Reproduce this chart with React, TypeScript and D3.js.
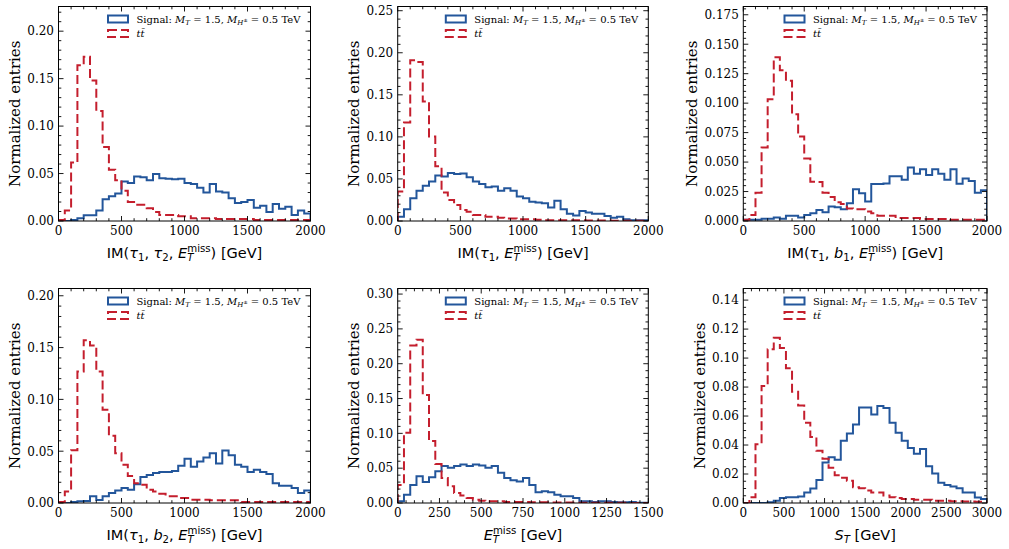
import * as d3 from 'd3';
import React from 'react';

// Normalized step histograms, 40 bins each, signal vs. ttbar
const sigTauTau = [0, 0, 0.001, 0.003, 0.006, 0.006, 0.011, 0.023, 0.026, 0.029, 0.0415, 0.04, 0.047, 0.046, 0.043, 0.0496, 0.045, 0.0445, 0.044, 0.0445, 0.04, 0.039, 0.035, 0.03, 0.039, 0.031, 0.03, 0.024, 0.019, 0.02, 0.022, 0.014, 0.016, 0.0095, 0.018, 0.013, 0.015, 0.0063, 0.011, 0.008];
const ttTauTau = [0.001, 0.011, 0.0616, 0.164, 0.173, 0.148, 0.116, 0.078, 0.054, 0.043, 0.032, 0.02, 0.017, 0.017, 0.0134, 0.0095, 0.0063, 0.0063, 0.0063, 0.005, 0.005, 0.003, 0.003, 0.003, 0.003, 0.002, 0.002, 0.002, 0.002, 0.002, 0.002, 0.001, 0.001, 0.001, 0.001, 0.001, 0.001, 0.001, 0.001, 0.001];

const sigTauMet = [0.005, 0.014, 0.027, 0.036, 0.042, 0.047, 0.054, 0.053, 0.057, 0.056, 0.0565, 0.052, 0.047, 0.044, 0.04, 0.041, 0.036, 0.039, 0.036, 0.029, 0.027, 0.023, 0.022, 0.021, 0.016, 0.024, 0.014, 0.0087, 0.0064, 0.012, 0.01, 0.0087, 0.0087, 0.006, 0.004, 0.005, 0.002, 0.001, 0.001, 0.001];
const ttTauMet = [0.035, 0.117, 0.191, 0.189, 0.142, 0.1006, 0.065, 0.034, 0.025, 0.019, 0.013, 0.011, 0.007, 0.007, 0.005, 0.005, 0.004, 0.003, 0.003, 0.002, 0.002, 0.002, 0.0015, 0.001, 0.001, 0.001, 0.001, 0.001, 0.0008, 0.0008, 0.0006, 0.0006, 0.0005, 0.0005, 0.0004, 0.0004, 0.0003, 0.0003, 0.0002, 0.0002];

const sigTauB1 = [0.001, 0.001, 0.001, 0.002, 0.002, 0.003, 0.002, 0.0045, 0.0045, 0.003, 0.005, 0.0065, 0.0093, 0.0075, 0.0122, 0.0116, 0.01, 0.015, 0.027, 0.0235, 0.0165, 0.0314, 0.0314, 0.0318, 0.038, 0.038, 0.035, 0.0453, 0.04, 0.044, 0.039, 0.044, 0.04, 0.035, 0.044, 0.0317, 0.036, 0.034, 0.024, 0.026];
const ttTauB1 = [0.001, 0.005, 0.024, 0.0623, 0.1034, 0.139, 0.128, 0.119, 0.0906, 0.0716, 0.053, 0.0334, 0.033, 0.024, 0.0204, 0.016, 0.0144, 0.0107, 0.01, 0.01, 0.008, 0.0065, 0.0045, 0.0045, 0.0045, 0.0025, 0.0025, 0.0025, 0.0025, 0.0017, 0.0017, 0.0017, 0.0017, 0.0017, 0.001, 0.001, 0.001, 0.001, 0.001, 0.001];

const sigTauB2 = [0, 0, 0.001, 0.0016, 0.002, 0.0064, 0.003, 0.0064, 0.0096, 0.012, 0.0144, 0.0128, 0.018, 0.025, 0.027, 0.029, 0.03, 0.03, 0.031, 0.036, 0.0426, 0.035, 0.04, 0.044, 0.048, 0.038, 0.0506, 0.046, 0.037, 0.035, 0.03, 0.032, 0.03, 0.028, 0.019, 0.0167, 0.0167, 0.0144, 0.0096, 0.012];
const ttTauB2 = [0.001, 0.011, 0.051, 0.127, 0.157, 0.152, 0.127, 0.09, 0.065, 0.048, 0.037, 0.026, 0.019, 0.0176, 0.0128, 0.011, 0.009, 0.0064, 0.0064, 0.0048, 0.0048, 0.0032, 0.0032, 0.0032, 0.0026, 0.0026, 0.0026, 0.0026, 0.0026, 0.001, 0.001, 0.001, 0.001, 0.001, 0.001, 0.001, 0.001, 0.001, 0.001, 0.001];

const sigMet = [0.0024, 0.012, 0.026, 0.0385, 0.03, 0.037, 0.0457, 0.053, 0.0506, 0.053, 0.0554, 0.053, 0.0554, 0.054, 0.0506, 0.053, 0.0433, 0.036, 0.0327, 0.031, 0.036, 0.026, 0.0154, 0.0168, 0.0154, 0.012, 0.0096, 0.0096, 0.0072, 0.0024, 0.0024, 0.0015, 0.0024, 0.0024, 0.0015, 0.001, 0.001, 0.0015, 0.0005, 0.0005];
const ttMet = [0.026, 0.101, 0.226, 0.2345, 0.155, 0.089, 0.056, 0.036, 0.024, 0.0144, 0.0106, 0.0072, 0.0048, 0.0034, 0.0024, 0.0024, 0.0024, 0.0015, 0.0015, 0.0015, 0.0015, 0.001, 0.001, 0.001, 0.0008, 0.0008, 0.0006, 0.0006, 0.0005, 0.0005, 0.0004, 0.0004, 0.0003, 0.0003, 0.0002, 0.0002, 0.0002, 0.0001, 0.0001, 0.0001];

const sigSt = [0, 0, 0, 0, 0.0005, 0.0015, 0.0034, 0.004, 0.004, 0.0045, 0.0072, 0.01, 0.0158, 0.028, 0.0316, 0.0298, 0.0429, 0.0479, 0.0542, 0.0659, 0.0659, 0.061, 0.067, 0.0655, 0.0553, 0.0485, 0.0429, 0.0379, 0.0339, 0.0373, 0.0253, 0.0203, 0.014, 0.0124, 0.0113, 0.0102, 0.0072, 0.0072, 0.0038, 0.0027];
const ttSt = [0, 0.004, 0.0406, 0.0808, 0.106, 0.114, 0.107, 0.093, 0.0768, 0.0673, 0.0553, 0.0456, 0.036, 0.0305, 0.0244, 0.0192, 0.0174, 0.0154, 0.0108, 0.0102, 0.0086, 0.0072, 0.0072, 0.0052, 0.004, 0.0034, 0.0027, 0.0027, 0.0023, 0.0023, 0.0023, 0.0015, 0.0015, 0.0015, 0.0012, 0.0012, 0.001, 0.001, 0.0008, 0.0008];

// axis ticks
const xTicks2000 = [0, 500, 1000, 1500, 2000];
const xTicks1500 = [0, 250, 500, 750, 1000, 1250, 1500];
const xTicks3000 = [0, 500, 1000, 1500, 2000, 2500, 3000];
const yTicks20 = [0, 0.05, 0.1, 0.15, 0.2];
const yTicks25 = [0, 0.05, 0.1, 0.15, 0.2, 0.25];
const yTicks30 = [0, 0.05, 0.1, 0.15, 0.2, 0.25, 0.3];
const yTicks175 = [0, 0.025, 0.05, 0.075, 0.1, 0.125, 0.15, 0.175];
const yTicks14 = [0, 0.02, 0.04, 0.06, 0.08, 0.1, 0.12, 0.14];

const W = 1009;
const H = 549;
const colLeft = [58.5, 397.7, 743.3];
const colRight = [310.5, 648.3, 987];
const rowTop = [6.5, 288.5];
const rowBottom = [221, 503];

const SIG = '#23569b';
const BKG = '#c41e2d';
const DASH = '9,4';
const SERIF = '"DejaVu Serif", serif';
const SANS = '"DejaVu Sans", sans-serif';

type Part = { t: string; i?: boolean; s?: number; dx?: number; dy?: number };

type Spec = {
  sig: number[];
  bkg: number[];
  xMax: number;
  yMax: number;
  xTicks: number[];
  xMinor: number;
  yTicks: number[];
  yMinor: number;
  dec: number;
  label: Part[];
};

const LFS = 14.5;
const SFS = 10.2;
const missW = 2.294 * SFS;
const tW = 0.611 * SFS;

const met: Part[] = [
  { t: 'E', i: true },
  { t: 'miss', s: SFS, dy: -6 },
  { t: 'T', s: SFS, i: true, dx: -missW, dy: 9 },
];
const sub = (sym: string, idx: string): Part[] => [
  { t: sym, i: true },
  { t: idx, s: SFS, dy: 3 },
  { t: ', ', dy: -3 },
];
const closing = (txt: string): Part => ({ t: txt, dx: missW - tW, dy: -3 });

const panels: Spec[] = [
  { sig: sigTauTau, bkg: ttTauTau, xMax: 2000, yMax: 0.226, xTicks: xTicks2000, xMinor: 100, yTicks: yTicks20, yMinor: 0.01, dec: 2,
    label: [{ t: 'IM(' }, ...sub('τ', '1'), ...sub('τ', '2'), ...met, closing(') [GeV]')] },
  { sig: sigTauMet, bkg: ttTauMet, xMax: 2000, yMax: 0.255, xTicks: xTicks2000, xMinor: 100, yTicks: yTicks25, yMinor: 0.01, dec: 2,
    label: [{ t: 'IM(' }, ...sub('τ', '1'), ...met, closing(') [GeV]')] },
  { sig: sigTauB1, bkg: ttTauB1, xMax: 2000, yMax: 0.182, xTicks: xTicks2000, xMinor: 100, yTicks: yTicks175, yMinor: 0.005, dec: 3,
    label: [{ t: 'IM(' }, ...sub('τ', '1'), ...sub('b', '1'), ...met, closing(') [GeV]')] },
  { sig: sigTauB2, bkg: ttTauB2, xMax: 2000, yMax: 0.207, xTicks: xTicks2000, xMinor: 100, yTicks: yTicks20, yMinor: 0.01, dec: 2,
    label: [{ t: 'IM(' }, ...sub('τ', '1'), ...sub('b', '2'), ...met, closing(') [GeV]')] },
  { sig: sigMet, bkg: ttMet, xMax: 1500, yMax: 0.308, xTicks: xTicks1500, xMinor: 50, yTicks: yTicks30, yMinor: 0.01, dec: 2,
    label: [...met, closing(' [GeV]')] },
  { sig: sigSt, bkg: ttSt, xMax: 3000, yMax: 0.148, xTicks: xTicks3000, xMinor: 100, yTicks: yTicks14, yMinor: 0.005, dec: 2,
    label: [{ t: 'S', i: true }, { t: 'T', s: SFS, i: true, dy: 3 }, { t: ' [GeV]', dy: -3 }] },
];

function Parts({ parts }: { parts: Part[] }) {
  return (
    <>
      {parts.map((p, k) => (
        <tspan key={k} fontStyle={p.i ? 'italic' : 'normal'} fontSize={p.s} dx={p.dx} dy={p.dy}>
          {p.t}
        </tspan>
      ))}
    </>
  );
}

const legendSignal: Part[] = [
  { t: 'Signal: ' },
  { t: 'M', i: true },
  { t: 'T', i: true, s: 7, dy: 2.5 },
  { t: ' = 1.5, ', dy: -2.5 },
  { t: 'M', i: true },
  { t: 'H', i: true, s: 7, dy: 2.5 },
  { t: '±', s: 5, dy: -3 },
  { t: ' = 0.5 TeV', dy: 0.5 },
];

function minorTicks(max: number, step: number, majors: number[]) {
  const n = Math.floor(max / step + 1e-6);
  return d3
    .range(n + 1)
    .map((i) => i * step)
    .filter((v) => !majors.some((m) => Math.abs(m - v) < step * 1e-3));
}

function Panel({ spec, idx }: { spec: Spec; idx: number }) {
  const left = colLeft[idx % 3];
  const right = colRight[idx % 3];
  const top = rowTop[Math.floor(idx / 3)];
  const bottom = rowBottom[Math.floor(idx / 3)];

  const x = d3.scaleLinear().domain([0, spec.xMax]).range([left, right]);
  const y = d3.scaleLinear().domain([0, spec.yMax]).range([bottom, top]);
  const n = spec.sig.length;
  const edges = d3.range(n + 1).map((i) => (i * spec.xMax) / n);

  const step = d3
    .line<[number, number]>()
    .x((d) => x(d[0]))
    .y((d) => y(d[1]))
    .curve(d3.curveStepAfter);
  const outline = (vals: number[]) =>
    step([[0, 0], ...vals.map((v, i) => [edges[i], v] as [number, number]), [spec.xMax, vals[n - 1]], [spec.xMax, 0]]);

  const fmt = d3.format(`.${spec.dec}f`);
  const xMinor = minorTicks(spec.xMax, spec.xMinor, spec.xTicks);
  const yMinor = minorTicks(spec.yMax, spec.yMinor, spec.yTicks);
  const clipId = `clip${idx}`;
  const MAJ = 5;
  const MIN = 2.8;
  const ylabX = left - 44 - (spec.dec - 2) * 8;

  return (
    <g>
      <defs>
        <clipPath id={clipId}>
          <rect x={left} y={top} width={right - left} height={bottom - top} />
        </clipPath>
      </defs>
      <g clipPath={`url(#${clipId})`} fill="none" strokeWidth={2} strokeLinejoin="miter">
        <path d={outline(spec.sig) || ''} stroke={SIG} />
        <path d={outline(spec.bkg) || ''} stroke={BKG} strokeDasharray={DASH} />
      </g>

      {/* ticks, pointing inwards on all four sides */}
      <g stroke="#000" strokeWidth={0.9}>
        {spec.xTicks.map((t) => (
          <g key={`xM${t}`}>
            <line x1={x(t)} x2={x(t)} y1={bottom} y2={bottom - MAJ} />
            <line x1={x(t)} x2={x(t)} y1={top} y2={top + MAJ} />
          </g>
        ))}
        {xMinor.map((t) => (
          <g key={`xm${t}`}>
            <line x1={x(t)} x2={x(t)} y1={bottom} y2={bottom - MIN} />
            <line x1={x(t)} x2={x(t)} y1={top} y2={top + MIN} />
          </g>
        ))}
        {spec.yTicks.map((t) => (
          <g key={`yM${t}`}>
            <line x1={left} x2={left + MAJ} y1={y(t)} y2={y(t)} />
            <line x1={right} x2={right - MAJ} y1={y(t)} y2={y(t)} />
          </g>
        ))}
        {yMinor.map((t) => (
          <g key={`ym${t}`}>
            <line x1={left} x2={left + MIN} y1={y(t)} y2={y(t)} />
            <line x1={right} x2={right - MIN} y1={y(t)} y2={y(t)} />
          </g>
        ))}
      </g>
      <rect x={left} y={top} width={right - left} height={bottom - top} fill="none" stroke="#000" strokeWidth={1} />

      <g fontFamily={SERIF} fontSize={12} fill="#000">
        {spec.xTicks.map((t) => (
          <text key={`xl${t}`} x={x(t)} y={bottom + 14} textAnchor="middle">
            {t}
          </text>
        ))}
        {spec.yTicks.map((t) => (
          <text key={`yl${t}`} x={left - 4.5} y={y(t)} dy="0.36em" textAnchor="end">
            {fmt(t)}
          </text>
        ))}
      </g>

      <text
        transform={`translate(${ylabX},${(top + bottom) / 2}) rotate(-90)`}
        textAnchor="middle"
        dy="0.36em"
        fontFamily={SERIF}
        fontSize={15}
      >
        Normalized entries
      </text>
      <text x={(left + right) / 2} y={bottom + 36.5} textAnchor="middle" fontFamily={SANS} fontSize={LFS}>
        <Parts parts={spec.label} />
      </text>

      {/* legend */}
      <g fontFamily={SERIF} fontSize={10}>
        <rect x={right - 202.5} y={top + 9} width={20} height={7} fill="none" stroke={SIG} strokeWidth={2} />
        <rect x={right - 202.5} y={top + 23.5} width={20} height={7} fill="none" stroke={BKG} strokeWidth={2} strokeDasharray={DASH} />
        <text x={right - 174} y={top + 16}>
          <Parts parts={legendSignal} />
        </text>
        <text x={right - 174} y={top + 30.5} fontStyle="italic">
          {'tt\u0304'}
        </text>
      </g>
    </g>
  );
}

export default function App() {
  return (
    <svg
      width={W}
      height={H}
      viewBox={`0 0 ${W} ${H}`}
      style={{ position: 'absolute', left: 0, top: 0, background: '#fff' }}
    >
      <rect width={W} height={H} fill="#fff" />
      {panels.map((p, i) => (
        <Panel key={i} spec={p} idx={i} />
      ))}
    </svg>
  );
}
